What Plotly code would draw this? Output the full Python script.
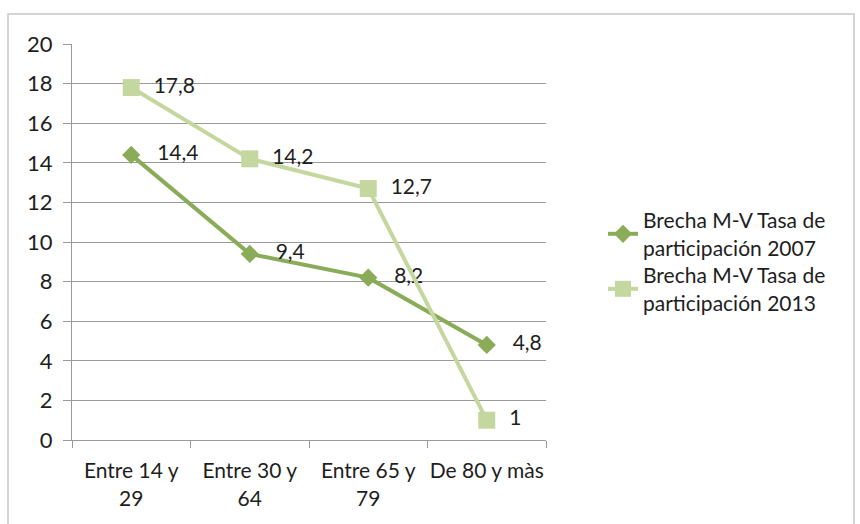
import plotly.graph_objects as go

categories = ["Entre 14 y<br>29", "Entre 30 y<br>64", "Entre 65 y<br>79", "De 80 y màs"]
brecha_2007 = [14.4, 9.4, 8.2, 4.8]
brecha_2013 = [17.8, 14.2, 12.7, 1]
labels_2007 = ["14,4", "9,4", "8,2", "4,8"]
labels_2013 = ["17,8", "14,2", "12,7", "1"]
y_ticks = [0, 2, 4, 6, 8, 10, 12, 14, 16, 18, 20]

c2007 = "#8aab57"
c2013 = "#c4d79e"
font_family = "Lato, 'Open Sans', sans-serif"
txt = "#1e1e1e"
grid = "#9a9a9a"
fs = 22      # axis text
fs_leg = 21  # legend text
fs_lab = 21  # data labels

fig = go.Figure()
fig.add_trace(go.Scatter(
    x=categories, y=brecha_2007, mode="lines+markers+text",
    name="Brecha M-V Tasa de<br>participación 2007",
    line=dict(color=c2007, width=4),
    marker=dict(symbol="diamond", size=14, color=c2007),
    text=["   " + t for t in labels_2007], textposition="middle right",
    textfont=dict(size=fs_lab, color=txt, family=font_family),
    cliponaxis=False, legend="legend",
))
fig.add_trace(go.Scatter(
    x=categories, y=brecha_2013, mode="lines+markers+text",
    name="Brecha M-V Tasa de<br>participación 2013",
    line=dict(color=c2013, width=4),
    marker=dict(symbol="square", size=17, color=c2013),
    text=["  " + t for t in labels_2013], textposition="middle right",
    textfont=dict(size=fs_lab, color=txt, family=font_family),
    cliponaxis=False, legend="legend2",
))

L, R, T, B = 72, 314, 44, 84
W, H = 860, 524
pw, ph = W - L - R, H - T - B


def legend_at(px, py):
    return dict(
        x=(px - L) / pw, y=(H - py - B) / ph, xanchor="left", yanchor="top",
        font=dict(size=fs_leg, color=txt, family=font_family),
        bgcolor="rgba(0,0,0,0)",
    )


fig.update_layout(
    width=W, height=H,
    margin=dict(l=L, r=R, t=T, b=B, autoexpand=False),
    paper_bgcolor="white", plot_bgcolor="white",
    font=dict(family=font_family, size=fs, color=txt),
    showlegend=True,
    legend=legend_at(603, 200),
    legend2=legend_at(603, 255),
    xaxis=dict(
        type="category", tickson="boundaries", ticks="outside", ticklen=7,
        tickcolor=grid, showline=True, linecolor=grid, linewidth=1.2,
        showgrid=False, tickfont=dict(size=21, color=txt), range=[-0.5, 3.5],
        ticklabelstandoff=12, tickangle=0, automargin=False,
    ),
    yaxis=dict(
        range=[0, 20], tickvals=y_ticks, ticks="outside", ticklen=8,
        tickcolor=grid, showline=True, linecolor=grid, linewidth=1.2,
        showgrid=True, gridcolor=grid, gridwidth=1.2, zeroline=False,
        tickfont=dict(size=fs, color=txt), ticklabelstandoff=6, automargin=False,
    ),
    shapes=[dict(
        type="rect", xref="paper", yref="paper",
        x0=(8 - L) / pw, x1=(854 - L) / pw,
        y0=(H - B - 540) / ph, y1=(H - B - 14) / ph,
        line=dict(color="#c8c8c8", width=1.5), fillcolor="rgba(0,0,0,0)", layer="below",
    )],
)

fig.write_html("out.html")
